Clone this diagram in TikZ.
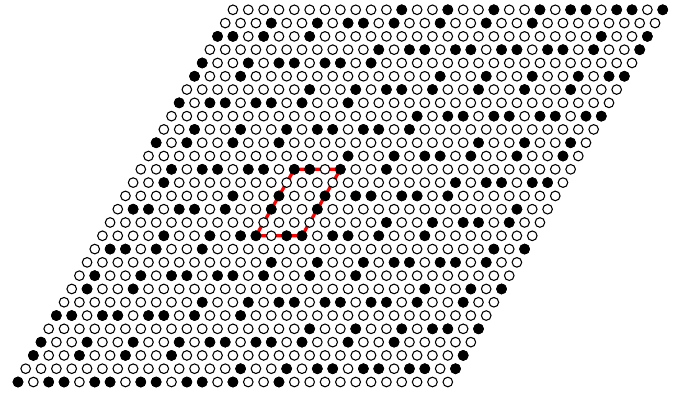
\documentclass[tikz,border=0pt]{standalone}
\usetikzlibrary{backgrounds}
\begin{document}
\begin{tikzpicture}[
		x=0.4cm, y=0.4cm,
		site/.style={
			circle,
			draw,
			line width=0.8pt,
			minimum size=0.25cm,
			inner sep=0pt,
			fill=white
		},
		occupied/.style={fill=black},
		cell/.style={
			draw=red,
			line width=2.4pt,
			line join=round
		}
		]
		
		% Margins of the frame
		\useasboundingbox (-1.173,-0.977) rectangle (43.19,24.886);
		
		% Sites of the triangular lattice, row by row (filled ones listed)
		\foreach \r/\occ in {
			0/{0,2,3,5,6,8,9,11,12,14,17},
			1/{14,17,19,20,22,23,25,26,28},
			2/{0,3,6,9,28},
			3/{0,3,6,9,11,12,14,15,17,20,23},
			4/{17,20,23,25,26,28},
			5/{0,1,3,4,6,7,9,12},
			6/{9,12,14,15,17,18,20,21,23,26},
			7/{1,4,23,26,28},
			8/{1,4,6,7,9,10,12,15,18},
			9/{12,15,18,20,21,23,24,26},
			10/{1,2,4,7,26,28},
			11/{4,7,9,10,12,13,15,16,18,21},
			12/{18,21,23,24,26},
			13/{1,2,4,5,7,10,13,26},
			14/{7,10,13,15,16,18,19,21},
			15/{2,21,23,24,26,27},
			16/{2,4,5,7,8,10,11,13,16},
			17/{13,16,18,19,21,24,27},
			18/{0,2,5,8,21,24,27},
			19/{2,5,8,10,11,13,14,16},
			20/{16,18,19,21,22,24,25,27,28},
			21/{0,2,3,5,6,8,11},
			22/{8,11,13,14,16,19,22,25},
			23/{0,3,16,19,22,25,27,28},
			24/{0,3,5,6,8,9,11},
			25/{11,13,14,16,17,19,20,22,23,25,28},
			26/{0,1,3,6,25,28},
			27/{3,6,8,9,11,14,17,20},
			28/{11,14,17,20,22,23,25,26,28}%
		}{
			\foreach \i in {0,...,28}
			\node[site] (s-\i-\r) at ({\i+0.5*\r},{0.866*\r}) {};
			\foreach \i in \occ
			\node[site, occupied] (o-\i-\r) at (s-\i-\r) {};
		}
		
		% Unit cell, under the sites
		\begin{scope}[on background layer]
			\draw[cell] (s-10-11.center) -- (s-13-11.center)
			-- (s-13-16.center) -- (s-10-16.center) -- cycle;
		\end{scope}
	\end{tikzpicture}
\end{document}
